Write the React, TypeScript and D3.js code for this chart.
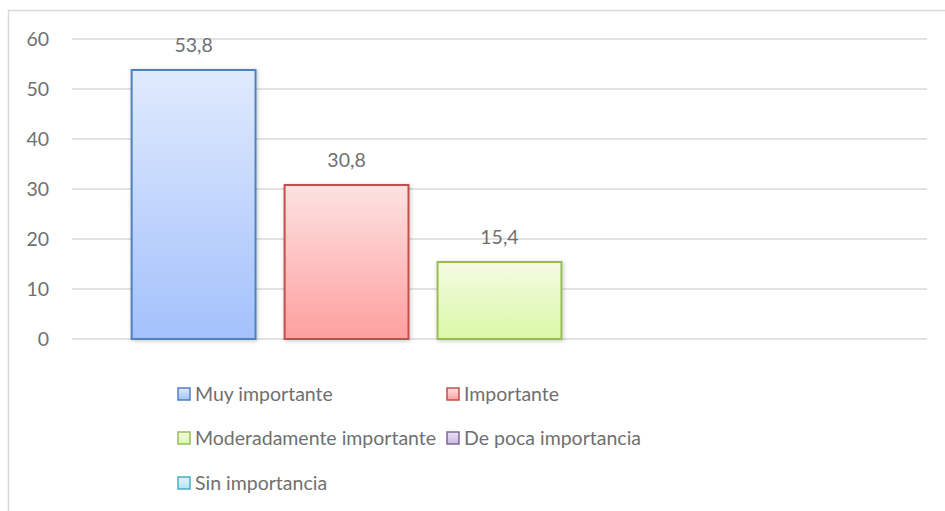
import React from "react";
import * as d3 from "d3";

const series = ["Muy importante", "Importante", "Moderadamente importante", "De poca importancia", "Sin importancia"];
const values = [53.8, 30.8, 15.4, 0, 0];
const labels = ["53,8", "30,8", "15,4", "", ""];
const yTicks = [0, 10, 20, 30, 40, 50, 60];
const strokes = ["#4f81bd", "#c0504d", "#9bbb59", "#8064a2", "#4bacc6"];
const topFill = ["#e0eafd", "#fde2e2", "#f4fbe3", "#ebe4f3", "#e2f4fa"];
const botFill = ["#a3c1fc", "#fe9f9f", "#d9f8a6", "#c9b8e0", "#b0e4f3"];

export default function App() {
  const W = 945, H = 511;
  const left = 72, right = 927, top = 39, bottom = 339;
  const x = d3.scaleBand<string>().domain(series).range([left, right]).paddingInner(0.19).paddingOuter(0.39);
  const y = d3.scaleLinear().domain([0, 60]).range([bottom, top]);
  const font = "Lato, 'Open Sans', sans-serif";
  const txt = "#707070";
  const fs = 19.5;
  const legendPos = [
    { x: 178, y: 394 },
    { x: 447, y: 394 },
    { x: 178, y: 438 },
    { x: 447, y: 438 },
    { x: 178, y: 483 },
  ];
  return (
    <svg width={W} height={H} style={{ position: "absolute", left: 0, top: 0, background: "#fff" }}>
      <defs>
        {series.map((s, i) => (
          <linearGradient key={s} id={`g${i}`} x1="0" y1="0" x2="0" y2="1">
            <stop offset="0" stopColor={topFill[i]} />
            <stop offset="1" stopColor={botFill[i]} />
          </linearGradient>
        ))}
        <filter id="sh" x="-20%" y="-20%" width="140%" height="140%">
          <feDropShadow dx="1" dy="1" stdDeviation="2" floodColor="#000" floodOpacity="0.22" />
        </filter>
      </defs>
      <rect x={0} y={0} width={W} height={H} fill="#fff" />
      <path d={`M8.5,${H} V10.5 H${W}`} fill="none" stroke="#d9d9d9" strokeWidth={1.5} />
      {yTicks.map((t) => (
        <g key={t}>
          <line x1={left} x2={right} y1={y(t)} y2={y(t)} stroke="#d9d9d9" strokeWidth={1.5} />
          <text x={49} y={y(t)} dy="0.35em" textAnchor="end" fontFamily={font} fontSize={fs} fill={txt}>
            {t}
          </text>
        </g>
      ))}
      {series.map((s, i) =>
        values[i] > 0 ? (
          <g key={s}>
            <rect
              x={x(s)!}
              y={y(values[i])}
              width={x.bandwidth()}
              height={y(0) - y(values[i])}
              fill={`url(#g${i})`}
              stroke={strokes[i]}
              strokeWidth={2}
              filter="url(#sh)"
            />
            <text
              x={x(s)! + x.bandwidth() / 2}
              y={y(values[i]) - 18}
              textAnchor="middle"
              fontFamily={font}
              fontSize={fs}
              fill={txt}
            >
              {labels[i]}
            </text>
          </g>
        ) : null
      )}
      {series.map((s, i) => (
        <g key={`l${i}`}>
          <rect
            x={legendPos[i].x}
            y={legendPos[i].y - 6}
            width={12}
            height={12}
            fill={`url(#g${i})`}
            stroke={strokes[i]}
            strokeWidth={1.5}
          />
          <text x={legendPos[i].x + 17} y={legendPos[i].y} dy="0.35em" fontFamily={font} fontSize={fs} fill={txt}>
            {s}
          </text>
        </g>
      ))}
    </svg>
  );
}
